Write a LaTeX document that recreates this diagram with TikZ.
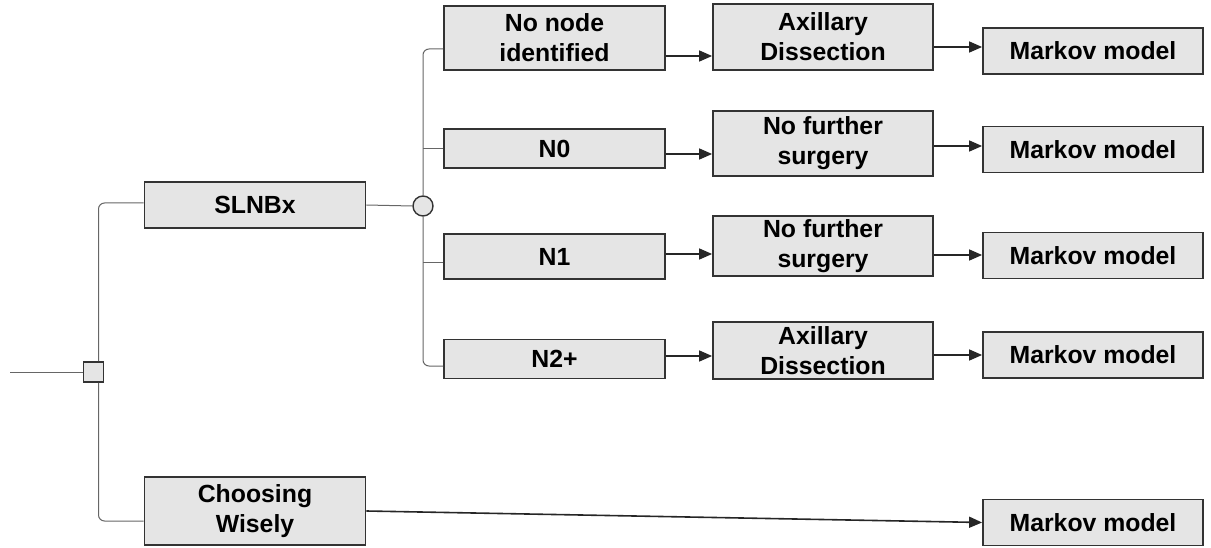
\documentclass[tikz,border=0pt]{standalone}
\usepackage{fontspec}
\setmainfont{Liberation Sans}
\usetikzlibrary{arrows.meta,positioning}
\tikzset{
  box/.style={draw=black!80, line width=1.8pt, fill=black!10, minimum width=221pt,
    align=center, inner sep=0pt, font=\fontsize{24.8}{30}\selectfont\bfseries},
  tree/.style={draw=black!60, line width=1pt, rounded corners=6pt},
  arr/.style={draw=black!85, line width=1.6pt, -{Triangle[length=13pt,width=11pt]}}
}

\begin{document}
\begin{tikzpicture}[x=1pt,y=-1pt]
\useasboundingbox (0,0) rectangle (1211,548);
% Decision and first choice
  \node[draw=black!80, line width=1.6pt, fill=black!10, minimum size=20pt, inner sep=0pt] (dec) at (93.5,372) {};
  \coordinate (in) at (10,372);
  \node[box, minimum height=46pt] (slnb) at (255,205) {SLNBx};
  \node[box, minimum height=68pt] (cw) at (255,511) {Choosing\\Wisely};
  \draw[tree] (in) -- (dec.west);
  \draw[tree] ([xshift=5pt]dec.north) |- ([yshift=2pt]slnb.west);
  \draw[tree] ([xshift=5pt]dec.south) |- ([yshift=-10pt]cw.west);
% Chance node and outcomes
  \node[circle, draw=black!80, line width=1.4pt, fill=black!10, minimum size=20pt, inner sep=0pt] (ch) at (423,206) {};
  \node[box, minimum height=64pt] (nni) at (554.5,38) {No node\\identified};
  \node[box, minimum height=39pt] (n0) at (554.5,148.5) {N0};
  \node[box, minimum height=45pt] (n1) at (554.5,256.5) {N1};
  \node[box, minimum height=39pt] (n2) at (554.5,359) {N2+};
  \coordinate (nnia) at ([yshift=-11pt]nni.west);
  \coordinate (n1a) at ([yshift=-6pt]n1.west);
  \coordinate (n2a) at ([yshift=-7pt]n2.west);
  \draw[tree] (slnb.east) -- (ch.west);
  \draw[tree] (ch.north) |- (nnia);
  \draw[tree] (ch.south) |- (n2a);
  \draw[tree] (ch.north |- n0.west) -- (n0.west);
  \draw[tree] (ch.south |- n1a) -- (n1a);
% Treatment
  \node[box, minimum width=220pt, minimum height=66pt] (ad1) at (823,37) {Axillary\\Dissection};
  \node[box, minimum width=220pt, minimum height=65pt] (nfs1) at (823,143.5) {No further\\surgery};
  \node[box, minimum width=220pt, minimum height=60pt] (nfs2) at (823,246) {No further\\surgery};
  \node[box, minimum width=220pt, minimum height=57pt] (ad2) at (823,350.5) {Axillary\\Dissection};
  \draw[arr] (nni.east |- 0,56) -- (ad1.west |- 0,56);
  \draw[arr] (n0.east |- 0,154) -- (nfs1.west |- 0,154);
  \draw[arr] (n1.east |- 0,254) -- (nfs2.west |- 0,254);
  \draw[arr] (n2.east |- 0,356) -- (ad2.west |- 0,356);
% Markov models
  \node[box, minimum width=220pt, minimum height=46pt] (m1) at (1093,51) {Markov model};
  \node[box, minimum width=220pt, minimum height=46pt] (m2) at (1093,149.5) {Markov model};
  \node[box, minimum width=220pt, minimum height=46pt] (m3) at (1093,255.5) {Markov model};
  \node[box, minimum width=220pt, minimum height=46pt] (m4) at (1093,355) {Markov model};
  \node[box, minimum width=220pt, minimum height=46pt] (m5) at (1093,522.5) {Markov model};
  \draw[arr] (ad1.east |- 0,47) -- (m1.west |- 0,47);
  \draw[arr] (nfs1.east |- 0,146) -- (m2.west |- 0,146);
  \draw[arr] (nfs2.east |- 0,255) -- (m3.west |- 0,255);
  \draw[arr] (ad2.east |- 0,355) -- (m4.west |- 0,355);
  \draw[arr] (cw.east) -- (m5.west);
\end{tikzpicture}
\end{document}
